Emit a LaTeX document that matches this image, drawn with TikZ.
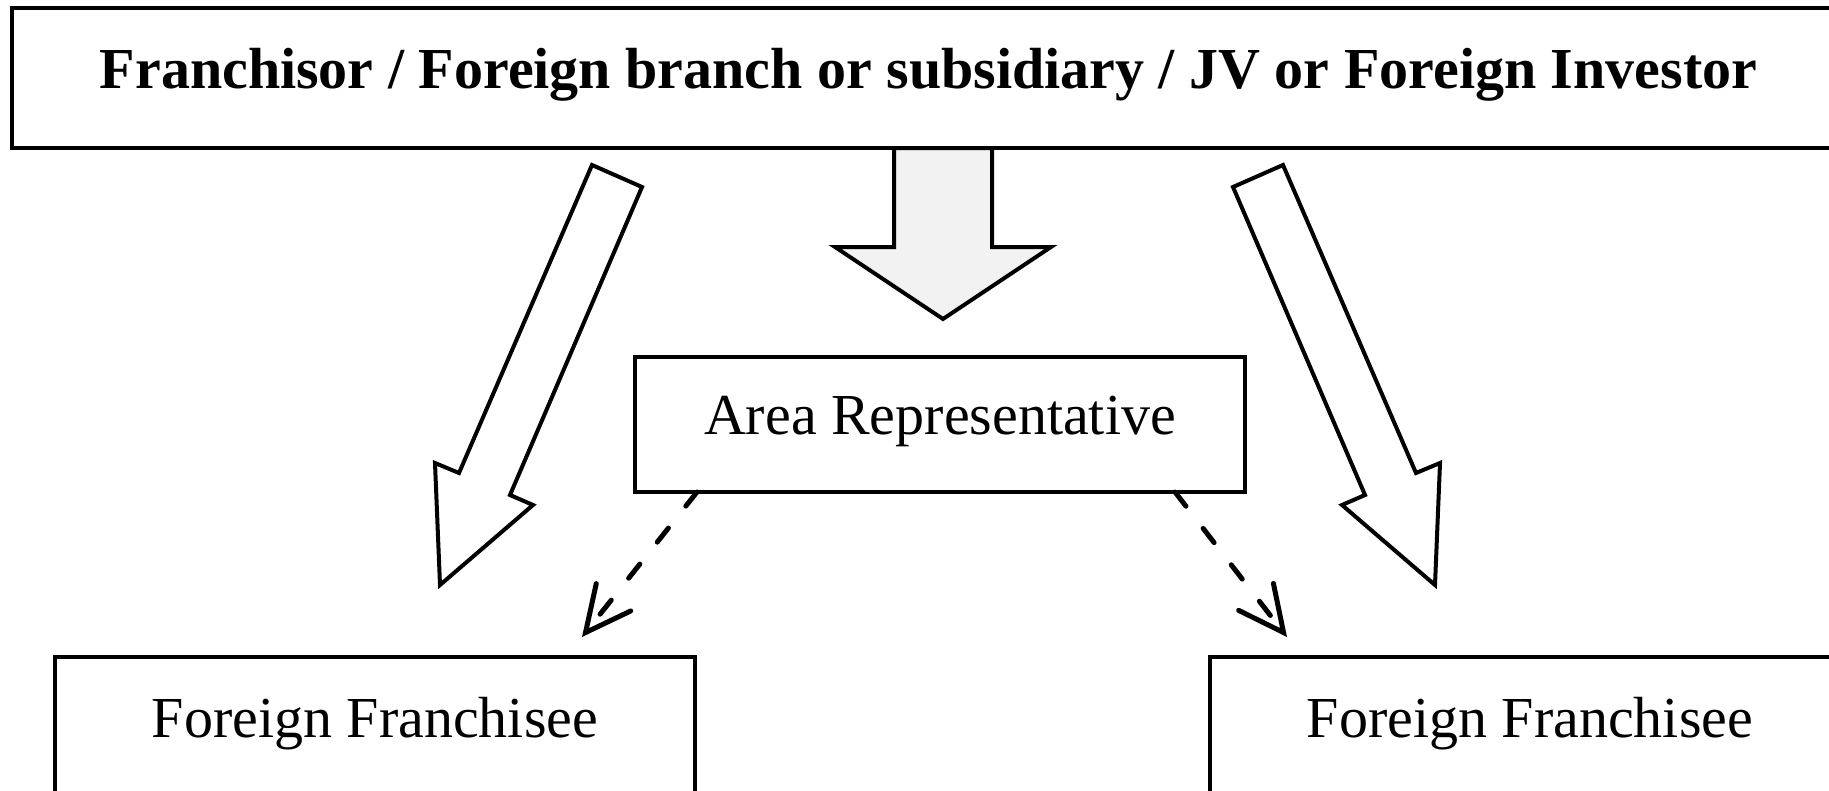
\documentclass[tikz,border=0pt]{standalone}
\usepackage{fontspec}
\setmainfont{Liberation Serif}
\usetikzlibrary{arrows.meta}
\begin{document}
\begin{tikzpicture}[x=1pt,y=-1pt,
  box/.style={draw,line width=4.5pt,inner sep=0pt,outer sep=0pt,
    text height=40pt,text depth=20pt,
    font=\fontsize{58pt}{70pt}\selectfont},
  blockarrow/.style={draw,line width=4pt,line join=miter,fill=white},
  dasharrow/.style={line width=5pt,line cap=round,dash pattern=on 18pt off 28pt,
    -{Straight Barb[length=45pt,width=44pt,line cap=round]}}
]
\clip (0,0) rectangle (1829,790);
\fill[white] (0,0) rectangle (1829,790);

% boxes
\node[box,minimum width=1833pt,minimum height=140pt,
  font=\fontsize{58pt}{70pt}\selectfont\bfseries] (top) at (928.5,78)
  {Franchisor / Foreign branch or subsidiary / JV or Foreign Investor};
\node[box,minimum width=610pt,minimum height=135pt] (area) at (940,424.5)
  {Area Representative};
\node[box,minimum width=640pt,minimum height=140pt] (fl) at (375,727)
  {Foreign Franchisee};
\node[box,minimum width=640pt,minimum height=140pt] (fr) at (1530,727)
  {Foreign Franchisee};

% central block arrow into the area representative
\filldraw[blockarrow,fill=black!5] (894,148) -- (894,247) -- (835,247) -- (943,319)
  -- (1051,247) -- (992,247) -- (992,148) -- cycle;

% slanted block arrows to the franchisees
\filldraw[blockarrow] (592,165) -- (642,187) -- (510,495) -- (533,505) -- (440,585)
  -- (435,463) -- (459,473) -- cycle;
\filldraw[blockarrow] (1283,165) -- (1233,187) -- (1365,495) -- (1342,505) -- (1435,585)
  -- (1440,463) -- (1416,473) -- cycle;

% dashed arrows from the area representative
\coordinate (dl) at (582,637);
\coordinate (dr) at (1287,637);
\draw[dasharrow] ([xshift=62pt]area.south west) -- (dl);
\draw[dasharrow] ([xshift=-70pt]area.south east) -- (dr);
\end{tikzpicture}
\end{document}
